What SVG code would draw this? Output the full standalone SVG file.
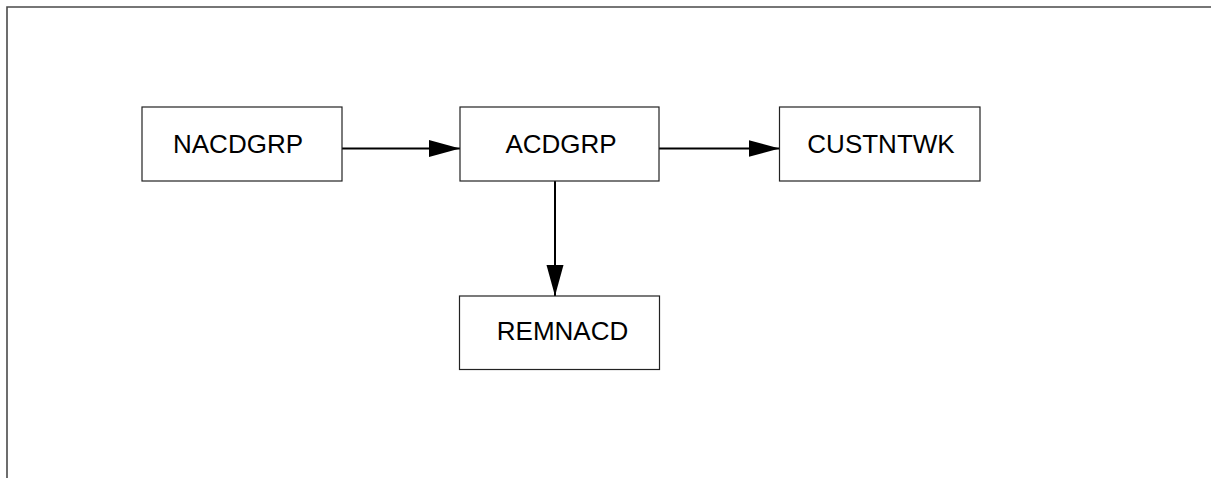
<svg xmlns="http://www.w3.org/2000/svg" width="1211" height="478" viewBox="0 0 1211 478">
<style>
.box{fill:#fff;stroke:#222;stroke-width:1.2}
.lbl{font-family:"Liberation Sans",Arial,sans-serif;font-size:26px;fill:#000;text-anchor:middle}
.conn{stroke:#000;stroke-width:2;fill:none}
</style>
<defs>
<marker id="ah" markerUnits="userSpaceOnUse" markerWidth="32" markerHeight="18" refX="31" refY="8.5" orient="auto">
<path d="M0,0 L31,8.5 L0,17 Z" fill="#000"/>
</marker>
</defs>
<rect width="1211" height="478" fill="#fff"/>
<g id="frame">
<path d="M7,478 L7,7 L1211,7" fill="none" stroke="#4a4a4a" stroke-width="1.6"/>
</g>
<g id="connectors">
<line class="conn" x1="342" y1="148.5" x2="460" y2="148.5" marker-end="url(#ah)"/>
<line class="conn" x1="659" y1="148.5" x2="779.5" y2="148.5" marker-end="url(#ah)"/>
<line class="conn" x1="555" y1="181" x2="555" y2="296" marker-end="url(#ah)"/>
</g>
<g id="NACDGRP">
<rect class="box" x="142" y="107" width="200" height="74"/>
<text class="lbl" x="238" y="152.5">NACDGRP</text>
</g>
<g id="ACDGRP">
<rect class="box" x="460" y="107" width="199" height="74"/>
<text class="lbl" x="561" y="152.5">ACDGRP</text>
</g>
<g id="CUSTNTWK">
<rect class="box" x="779.5" y="107" width="200.5" height="74"/>
<text class="lbl" x="881" y="152.5">CUSTNTWK</text>
</g>
<g id="REMNACD">
<rect class="box" x="459.5" y="296" width="200" height="73.5"/>
<text class="lbl" x="562.5" y="340">REMNACD</text>
</g>
</svg>
